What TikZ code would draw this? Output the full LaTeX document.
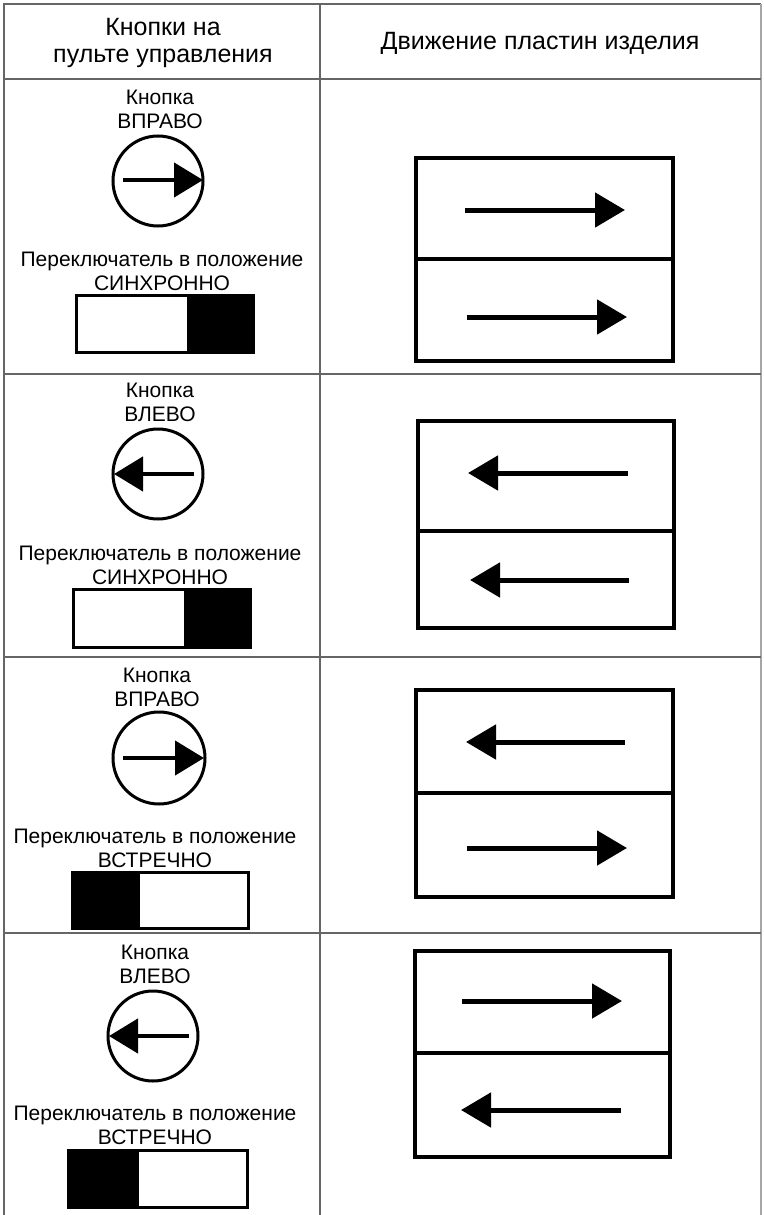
\documentclass[tikz,border=0pt]{standalone}
\usepackage{fontspec}
\setmainfont{Liberation Sans}
\usetikzlibrary{arrows.meta,positioning}

\tikzset{
    tablerule/.style={draw=black!60, line width=1.5pt},
    hdr/.style={font=\fontsize{25}{27}\selectfont, align=center, inner sep=0pt},
    lbl/.style={font=\fontsize{21}{24}\selectfont, align=center, inner sep=0pt},
    knob/.style={line width=3pt},
    knobarrow/.style={line width=4.5pt, -{Triangle[length=29pt,width=34pt]}},
    switchbox/.style={line width=3pt},
    plate/.style={line width=4pt},
    motion/.style={line width=5pt, -{Triangle[length=30pt,width=34pt]}}
}

\begin{document}
\begin{tikzpicture}[x=1pt, y=-1pt]
    \useasboundingbox (0,0) rectangle (763,1215);

    % table frame, open at the bottom
    \draw[tablerule] (4,1215) -- (4,4) -- (761,4);
    \draw[draw=black!35, line width=1.5pt] (761,4) -- (761,1215);
    \draw[tablerule] (320,4) -- (320,1215);
    \draw[tablerule] (4,79) -- (761,79);
    \draw[tablerule] (4,374) -- (761,374);
    \draw[tablerule] (4,657) -- (761,657);
    \draw[tablerule] (4,933) -- (761,933);

    % header
    \node[hdr] (colbuttons) at (163,43) {Кнопки на\\пульте управления};
    \node[hdr] (colplates) at (540,43) {Движение пластин изделия};

    % row 1: right, synchronous
    \node[lbl] (knop1) at (160,109) {Кнопка\\ВПРАВО};
    \draw[knob] (158,181) circle (45);
    \draw[knobarrow] (123,180) -- (203,180);
    \node[lbl] (mode1) at (162,271) {Переключатель в положение\\СИНХРОННО};
    \draw[switchbox] (76,295) rectangle (253,352);
    \draw[switchbox, fill=black] (188,295) rectangle (253,352);
    \draw[plate] (416,158) rectangle (673,361);
    \draw[plate] (416,259) -- (673,259);
    \draw[motion] (465,210) -- (625,210);
    \draw[motion] (467,317) -- (627,317);

    % row 2: left, synchronous
    \node[lbl] (knop2) at (160,402) {Кнопка\\ВЛЕВО};
    \draw[knob] (158,474) circle (45);
    \draw[knobarrow] (194,474) -- (114,474);
    \node[lbl] (mode2) at (160,565) {Переключатель в положение\\СИНХРОННО};
    \draw[switchbox] (73,589) rectangle (250,647);
    \draw[switchbox, fill=black] (185,589) rectangle (250,647);
    \draw[plate] (418,421) rectangle (674,628);
    \draw[plate] (418,531) -- (674,531);
    \draw[motion] (628,473) -- (468,473);
    \draw[motion] (629,580) -- (470,580);

    % row 3: right, counter
    \node[lbl] (knop3) at (157,687) {Кнопка\\ВПРАВО};
    \draw[knob] (159,758) circle (46);
    \draw[knobarrow] (123,758) -- (204,758);
    \node[lbl] (mode3) at (155,848) {Переключатель в положение\\ВСТРЕЧНО};
    \draw[switchbox] (72,872) rectangle (248,928);
    \draw[switchbox, fill=black] (72,872) rectangle (138,928);
    \draw[plate] (416,690) rectangle (673,897);
    \draw[plate] (416,793) -- (673,793);
    \draw[motion] (625,742) -- (466,742);
    \draw[motion] (467,848) -- (627,848);

    % row 4: left, counter
    \node[lbl] (knop4) at (155,964) {Кнопка\\ВЛЕВО};
    \draw[knob] (153,1036) circle (45);
    \draw[knobarrow] (189,1036) -- (109,1036);
    \node[lbl] (mode4) at (155,1125) {Переключатель в положение\\ВСТРЕЧНО};
    \draw[switchbox] (68,1150) rectangle (247,1207);
    \draw[switchbox, fill=black] (68,1150) rectangle (137,1207);
    \draw[plate] (415,951) rectangle (670,1157);
    \draw[plate] (415,1053) -- (670,1053);
    \draw[motion] (462,1001) -- (622,1001);
    \draw[motion] (621,1110) -- (461,1110);
\end{tikzpicture}
\end{document}
